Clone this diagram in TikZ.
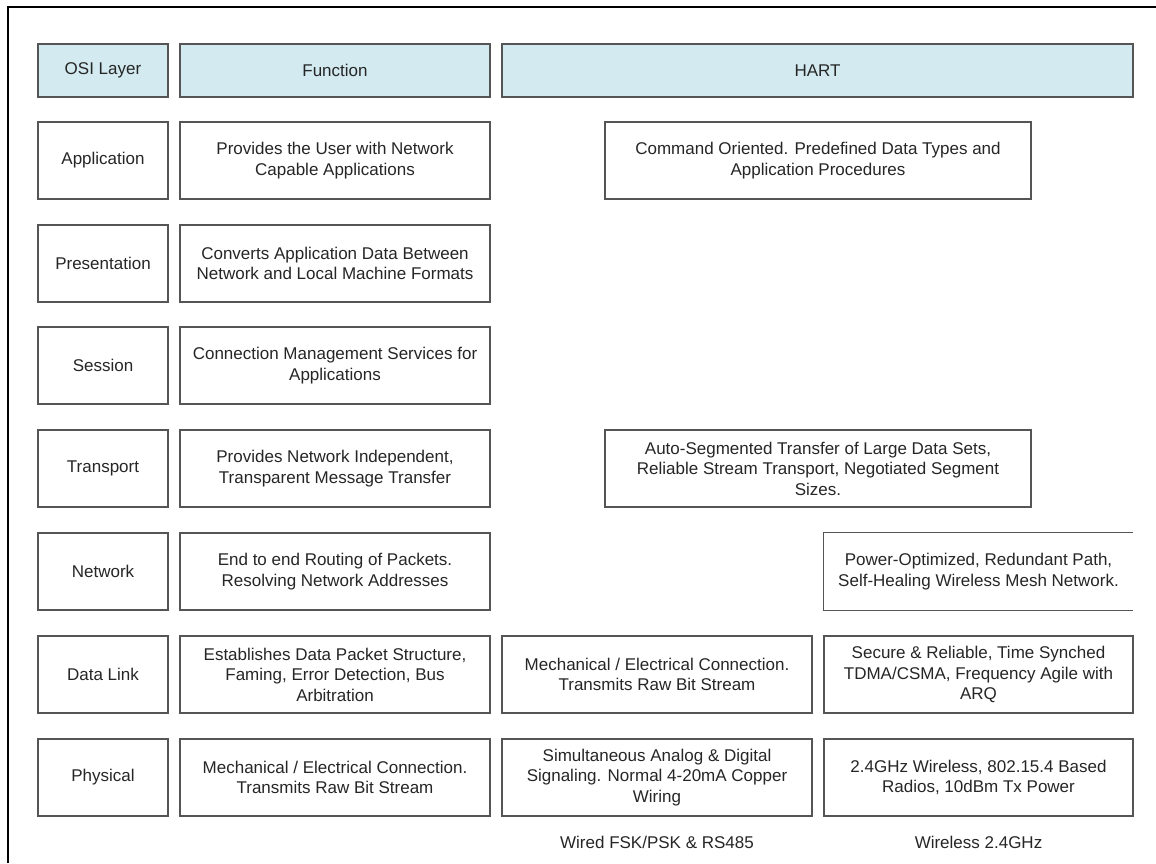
\documentclass[tikz,border=0pt]{standalone}
\usepackage{fontspec}
\setmainfont{Liberation Sans}
\definecolor{boxline}{HTML}{555555}
\definecolor{headfill}{HTML}{D2EAF0}
\begin{document}
\begin{tikzpicture}[x=1pt,y=-1pt,
  cell/.style={draw=boxline, line width=1.3pt, fill=white, align=center, inner sep=0pt,
    font=\fontsize{17}{20.5}\selectfont, text=black!85},
  head/.style={cell, fill=headfill},
  plain/.style={align=center, inner sep=0pt, font=\fontsize{17}{20.5}\selectfont, text=black!85}]
\useasboundingbox (0,0) rectangle (1156,863);
\fill[white] (0,0) rectangle (1156,863);
% outer frame
\draw[line width=2pt] (8,863) -- (8,7) -- (1156,7);
% header
\node[head, minimum width=130pt, minimum height=53pt] (h1) at (103,70.5) {OSI Layer};
\node[head, minimum width=310pt, minimum height=53pt] (h2) at (335,70.5) {Function};
\node[head, minimum width=631pt, minimum height=53pt] (h3) at (817.5,70.5) {HART};
% OSI layer column
\node[cell, minimum width=130pt, minimum height=77pt] (l1) at (103,160.5) {Application};
\node[cell, minimum width=130pt, minimum height=77pt] (l2) at (103,263.5) {Presentation};
\node[cell, minimum width=130pt, minimum height=77pt] (l3) at (103,365.5) {Session};
\node[cell, minimum width=130pt, minimum height=77pt] (l4) at (103,468.5) {Transport};
\node[cell, minimum width=130pt, minimum height=77pt] (l5) at (103,571.5) {Network};
\node[cell, minimum width=130pt, minimum height=77pt] (l6) at (103,674.5) {Data Link};
\node[cell, minimum width=130pt, minimum height=77pt] (l7) at (103,777.5) {Physical};
% function column
\node[cell, minimum width=310pt, minimum height=77pt] (f1) at (335,160.5) {Provides the User with Network\\Capable Applications};
\node[cell, minimum width=310pt, minimum height=77pt] (f2) at (335,263.5) {Converts Application Data Between\\Network and Local Machine Formats};
\node[cell, minimum width=310pt, minimum height=77pt] (f3) at (335,365.5) {Connection Management Services for\\Applications};
\node[cell, minimum width=310pt, minimum height=77pt] (f4) at (335,468.5) {Provides Network Independent,\\Transparent Message Transfer};
\node[cell, minimum width=310pt, minimum height=77pt] (f5) at (335,571.5) {End to end Routing of Packets.\\Resolving Network Addresses};
\node[cell, minimum width=310pt, minimum height=77pt] (f6) at (335,674.5) {Establishes Data Packet Structure,\\Faming, Error Detection, Bus\\Arbitration};
\node[cell, minimum width=310pt, minimum height=77pt] (f7) at (335,777.5) {Mechanical / Electrical Connection.\\Transmits Raw Bit Stream};
% HART column
\node[cell, minimum width=426pt, minimum height=77pt] (a1) at (818,160.5) {Command Oriented. Predefined Data Types and\\Application Procedures};
\node[cell, minimum width=426pt, minimum height=77pt] (a4) at (818,468.5) {Auto-Segmented Transfer of Large Data Sets,\\Reliable Stream Transport, Negotiated Segment\\Sizes.};
\node[plain, minimum width=309pt, minimum height=77pt] (w5) at (978.5,571.5) {Power-Optimized, Redundant Path,\\Self-Healing Wireless Mesh Network.};
\draw[boxline, line width=1.3pt] (w5.north east) -- (w5.north west) -- (w5.south west) -- (w5.south east);
\node[cell, minimum width=310pt, minimum height=77pt] (d6) at (657,674.5) {Mechanical / Electrical Connection.\\Transmits Raw Bit Stream};
\node[cell, minimum width=309pt, minimum height=77pt] (w6) at (978.5,674.5) {Secure \& Reliable, Time Synched\\TDMA/CSMA, Frequency Agile with\\ARQ};
\node[cell, minimum width=310pt, minimum height=77pt] (d7) at (657,777.5) {Simultaneous Analog \& Digital\\Signaling. Normal 4-20mA Copper\\Wiring};
\node[cell, minimum width=309pt, minimum height=77pt] (w7) at (978.5,777.5) {2.4GHz Wireless, 802.15.4 Based\\Radios, 10dBm Tx Power};
% bottom labels
\node[plain] (wired) at (657,842) {Wired FSK/PSK \& RS485};
\node[plain] (wless) at (978.5,842) {Wireless 2.4GHz};
\end{tikzpicture}
\end{document}
